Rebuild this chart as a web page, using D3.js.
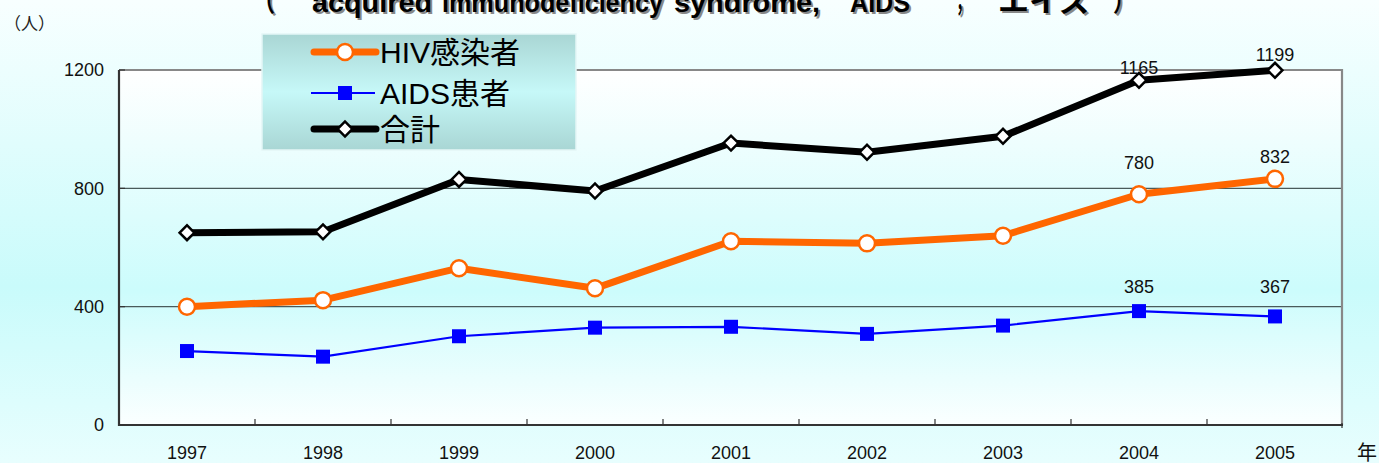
<!DOCTYPE html>
<html><head><meta charset="utf-8">
<script src="https://cdn.jsdelivr.net/npm/d3@7"></script>
<style>
html,body{margin:0;padding:0;overflow:hidden;}
svg{display:block;}
text{font-family:"Liberation Sans",Arial,"Noto Sans CJK JP",sans-serif;}
</style></head>
<body>
<script>
// ---- data ----
const years = ["1997","1998","1999","2000","2001","2002","2003","2004","2005"];
const hivValues = [400, 422, 530, 462, 621, 614, 640, 780, 832];
const aidsValues = [250, 231, 300, 329, 332, 308, 336, 385, 367];
const totalValues = [650, 653, 830, 791, 953, 922, 976, 1165, 1199];
const yTicks = [0, 400, 800, 1200];
const seriesNames = ["HIV感染者", "AIDS患者", "合計"];
const labelledIndex = [7, 8];
const titlePieces = ["（", "acquired", "immunodeficiency", "syndrome,", "AIDS", "；", "エイズ", "）"];

const W = 1379, H = 463;
const M = {left:119, right:1343, top:70, bottom:425};

const svg = d3.select("body").append("svg").attr("width", W).attr("height", H);
const defs = svg.append("defs");

const bg = defs.append("linearGradient").attr("id","bg").attr("x1",0).attr("y1",0).attr("x2",0).attr("y2",1);
bg.append("stop").attr("offset","0").attr("stop-color","#f8ffff");
bg.append("stop").attr("offset","0.62").attr("stop-color","#c9fbfb");
bg.append("stop").attr("offset","1").attr("stop-color","#e8fefe");

const pg = defs.append("linearGradient").attr("id","pg").attr("x1",0).attr("y1",0).attr("x2",0).attr("y2",1);
pg.append("stop").attr("offset","0").attr("stop-color","#ffffff");
pg.append("stop").attr("offset","0.62").attr("stop-color","#ccfcfc");
pg.append("stop").attr("offset","1").attr("stop-color","#fbffff");

const lg = defs.append("linearGradient").attr("id","lg").attr("x1",0).attr("y1",0).attr("x2",0).attr("y2",1);
lg.append("stop").attr("offset","0").attr("stop-color","#a9d6d4");
lg.append("stop").attr("offset","0.5").attr("stop-color","#c6f8f8");
lg.append("stop").attr("offset","1").attr("stop-color","#a9d6d4");

svg.append("rect").attr("width",W).attr("height",H).attr("fill","url(#bg)");

const x = d3.scaleBand().domain(years).range([M.left, M.right]).padding(0);
const cx = d => x(d) + x.bandwidth()/2;
const y = d3.scaleLinear().domain([0,1200]).range([M.bottom, M.top]);

svg.append("rect").attr("x",M.left).attr("y",M.top).attr("width",M.right-M.left).attr("height",M.bottom-M.top).attr("fill","url(#pg)");

svg.append("g").selectAll("line").data(yTicks.filter(v=>v>0 && v<1200)).join("line")
  .attr("x1",M.left).attr("x2",M.right-1).attr("y1",d=>y(d)).attr("y2",d=>y(d))
  .attr("stroke","#4a5a5a").attr("stroke-width",1.3);

svg.append("path").attr("d",`M${M.left},${M.top}H${M.right-1}V${M.bottom}`)
  .attr("fill","none").attr("stroke","#888").attr("stroke-width",2.2);

svg.append("path").attr("d",`M${M.left},${M.top}V${M.bottom}H${M.right}`)
  .attr("fill","none").attr("stroke","#333").attr("stroke-width",2.2);
svg.append("g").selectAll("line").data(years.slice(1)).join("line")
  .attr("x1",d=>x(d)).attr("x2",d=>x(d)).attr("y1",M.bottom).attr("y2",M.bottom-6)
  .attr("stroke","#333").attr("stroke-width",1.2);
svg.append("line").attr("x1",M.right-1).attr("x2",M.right-1).attr("y1",M.bottom-2).attr("y2",M.bottom+3).attr("stroke","#333").attr("stroke-width",1.2);
svg.append("g").selectAll("line").data(yTicks).join("line")
  .attr("x1",M.left).attr("x2",M.left+6).attr("y1",d=>y(d)).attr("y2",d=>y(d))
  .attr("stroke","#333").attr("stroke-width",1.2);

svg.append("g").selectAll("text").data(yTicks).join("text")
  .attr("x",104).attr("y",d=>y(d)).attr("dy","0.36em").attr("text-anchor","end")
  .attr("font-size",18).attr("fill","#111").text(d=>d);
svg.append("g").selectAll("text").data(years).join("text")
  .attr("x",d=>cx(d)).attr("y",459).attr("text-anchor","middle")
  .attr("font-size",18).attr("fill","#111").text(d=>d);

svg.append("text").attr("x",4).attr("y",30).attr("font-size",17)
  .attr("font-family","'Noto Sans CJK JP'").attr("fill","#222").text("（人）");
svg.append("text").attr("x",1357).attr("y",460).attr("font-size",20)
  .attr("font-family","'Noto Sans CJK JP'").attr("fill","#111").text("年");

// title (clipped at top)
const titleX = [253, 312, 442, 674, 850, 953, 998, 1113];
const titleW = [22, 120, 221, 146, 60, 14, 92, 22];
const tg = svg.append("g");
[["#888",2,2],["#000",0,0]].forEach(([col,dx,dy])=>{
  tg.append("g").selectAll("text").data(titlePieces).join("text")
    .attr("x",(d,i)=>titleX[i]+dx).attr("y",12+dy)
    .attr("font-size",28).attr("font-weight","bold").attr("fill",col)
    .attr("textLength",(d,i)=>titleW[i]).attr("lengthAdjust","spacingAndGlyphs")
    .text(d=>d);
});

const line = d3.line().x((d,i)=>cx(years[i])).y(d=>y(d));

function drawTotal(g){
  g.append("path").datum(totalValues).attr("d",line).attr("fill","none")
    .attr("stroke","#000").attr("stroke-width",7).attr("stroke-linejoin","round");
  g.append("g").selectAll("path").data(totalValues).join("path")
    .attr("transform",(d,i)=>`translate(${cx(years[i])},${y(d)}) rotate(45)`)
    .attr("d",d3.symbol().type(d3.symbolSquare).size(110))
    .attr("fill","#fff").attr("stroke","#000").attr("stroke-width",2.5);
}
function drawHiv(g){
  g.append("path").datum(hivValues).attr("d",line).attr("fill","none")
    .attr("stroke","#ff6600").attr("stroke-width",7).attr("stroke-linejoin","round");
  g.append("g").selectAll("circle").data(hivValues).join("circle")
    .attr("cx",(d,i)=>cx(years[i])).attr("cy",d=>y(d)).attr("r",8)
    .attr("fill","#fff").attr("stroke","#ff6600").attr("stroke-width",2.5);
}
function drawAids(g){
  g.append("path").datum(aidsValues).attr("d",line).attr("fill","none")
    .attr("stroke","#0000ff").attr("stroke-width",2.2);
  g.append("g").selectAll("rect").data(aidsValues).join("rect")
    .attr("x",(d,i)=>cx(years[i])-7).attr("y",d=>y(d)-7).attr("width",14).attr("height",14)
    .attr("fill","#0000ff");
}
const sg = svg.append("g");
drawAids(sg); drawHiv(sg); drawTotal(sg);

const labelOffsets = {total:[13,16], hiv:[32,22], aids:[25,30]};
const labG = svg.append("g").attr("font-size",18).attr("fill","#111").attr("text-anchor","middle");
[["total",totalValues],["hiv",hivValues],["aids",aidsValues]].forEach(([k,vals])=>{
  labelledIndex.forEach((idx,j)=>{
    labG.append("text").attr("x",cx(years[idx])).attr("y",y(vals[idx])-labelOffsets[k][j])
      .attr("dy","0.36em").text(vals[idx]);
  });
});

// legend
const L = {x:262, y:34, w:314, h:116};
const leg = svg.append("g");
leg.append("rect").attr("x",L.x).attr("y",L.y).attr("width",L.w).attr("height",L.h)
  .attr("fill","url(#lg)").attr("stroke","#e4f6f6").attr("stroke-width",1.5);
const rows = [52, 93, 129];
const lx1 = 314, lx2 = 376, lm = 345;
leg.append("line").attr("x1",lx1).attr("x2",lx2).attr("y1",rows[0]).attr("y2",rows[0])
  .attr("stroke","#ff6600").attr("stroke-width",7).attr("stroke-linecap","round");
leg.append("circle").attr("cx",lm).attr("cy",rows[0]).attr("r",8)
  .attr("fill","#fff").attr("stroke","#ff6600").attr("stroke-width",2.5);
leg.append("line").attr("x1",lx1-3).attr("x2",lx2-1).attr("y1",rows[1]).attr("y2",rows[1])
  .attr("stroke","#0000ff").attr("stroke-width",2);
leg.append("rect").attr("x",lm-7).attr("y",rows[1]-7).attr("width",14).attr("height",14).attr("fill","#0000ff");
leg.append("line").attr("x1",lx1).attr("x2",lx2).attr("y1",rows[2]).attr("y2",rows[2])
  .attr("stroke","#000").attr("stroke-width",7).attr("stroke-linecap","round");
leg.append("path").attr("transform",`translate(${lm},${rows[2]}) rotate(45)`)
  .attr("d",d3.symbol().type(d3.symbolSquare).size(110))
  .attr("fill","#fff").attr("stroke","#000").attr("stroke-width",2.5);
leg.append("g").selectAll("text").data(seriesNames).join("text")
  .attr("x",380).attr("y",(d,i)=>rows[i]).attr("dy","0.36em")
  .attr("font-size",30).attr("fill","#000").text(d=>d);
</script>
</body></html>
